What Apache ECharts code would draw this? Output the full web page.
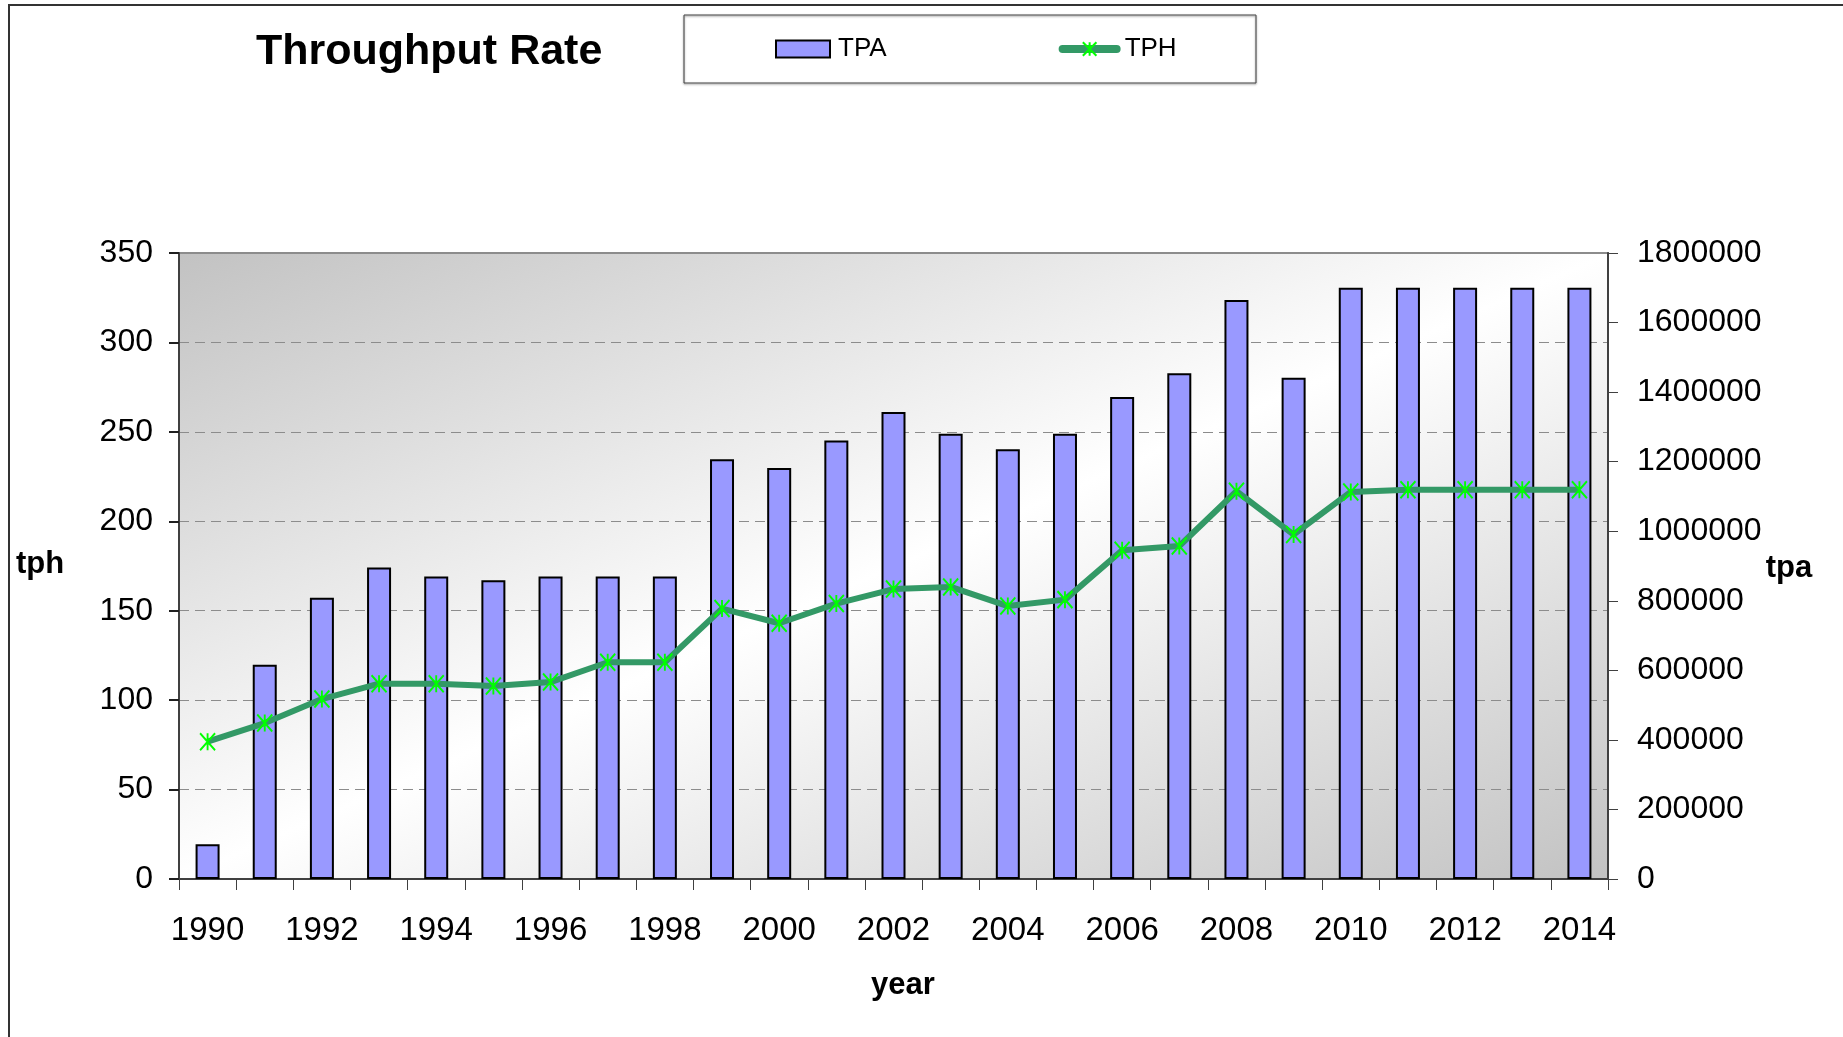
<!DOCTYPE html>
<html>
<head>
<meta charset="utf-8">
<script src="https://cdn.jsdelivr.net/npm/echarts@6/dist/echarts.min.js"></script>
<style>
  html, body { margin: 0; padding: 0; background: #fff; }
  #chart { width: 1843px; height: 1037px; }
</style>
</head>
<body>
<div id="chart"></div>
<script>
  // data
  const years = ['1990', '1991', '1992', '1993', '1994', '1995', '1996', '1997', '1998', '1999',
    '2000', '2001', '2002', '2003', '2004', '2005', '2006', '2007', '2008', '2009',
    '2010', '2011', '2012', '2013', '2014']
  const tpa = [100000, 616000, 809000, 896000, 870000, 859000, 870000, 870000, 870000, 1207000,
    1182000, 1261000, 1343000, 1280000, 1236000, 1280000, 1386000, 1454000, 1665000, 1441000,
    1700000, 1700000, 1700000, 1700000, 1700000]
  const tph = [76.8, 87.2, 100.6, 109.2, 109.2, 107.9, 110.1, 121.2, 121.2, 151.2,
    143.0, 154.0, 162.1, 163.3, 152.6, 156.2, 183.8, 186.2, 216.8, 192.6,
    216.4, 217.7, 217.7, 217.7, 217.7]

  const font = "'Liberation Sans', Arial, sans-serif"
  const star = 'path://M0,0L12,14M12,0L0,14M6,0L6,14'

  const myChart = echarts.init(document.getElementById('chart'))

  // plot area box: 179..1608 x 253..879, gradient runs corner to corner
  myChart.setOption({
    animation: false,
    title: {
      text: 'Throughput Rate',
      left: 256,
      top: 31,
      padding: 0,
      textStyle: { fontFamily: font, fontSize: 43, fontWeight: 'bold', color: '#000' }
    },
    legend: {
      left: 775,
      top: 36,
      padding: 0,
      itemWidth: 54,
      itemHeight: 17,
      itemGap: 172,
      textStyle: { fontFamily: font, fontSize: 26, color: '#000', padding: [0, 0, 0, 3] },
      data: [
        { name: 'TPA', icon: 'rect' },
        { name: 'TPH', itemStyle: { borderWidth: 2 }, lineStyle: { width: 8, cap: 'round' } }
      ]
    },
    grid: {
      left: 179,
      right: 235,
      top: 253,
      bottom: 158,
      show: true,
      borderColor: '#8c8c8c',
      borderWidth: 2,
      backgroundColor: new echarts.graphic.LinearGradient(0, 0, 0.322, 1.678, [
        { offset: 0, color: '#c2c2c2' },
        { offset: 0.5, color: '#ffffff' },
        { offset: 1, color: '#c2c2c2' }
      ])
    },
    xAxis: {
      type: 'category',
      data: years,
      boundaryGap: true,
      axisLine: { lineStyle: { color: '#404040', width: 2 } },
      axisTick: { show: true, interval: 0, length: 11, lineStyle: { color: '#404040', width: 1 } },
      axisLabel: { interval: 1, margin: 35, fontFamily: font, fontSize: 33, color: '#000' }
    },
    yAxis: [
      {
        type: 'value',
        min: 0,
        max: 350,
        interval: 50,
        position: 'left',
        axisLine: { show: true, lineStyle: { color: '#404040', width: 2 } },
        axisTick: { show: true, length: 10, lineStyle: { color: '#202020', width: 2 } },
        axisLabel: { margin: 26, fontFamily: font, fontSize: 32, color: '#000' },
        splitLine: { show: true, lineStyle: { color: '#8c8c8c', width: 1, type: [10, 6] } }
      },
      {
        type: 'value',
        min: 0,
        max: 1800000,
        interval: 200000,
        position: 'right',
        axisLine: { show: true, lineStyle: { color: '#404040', width: 2 } },
        axisTick: { show: true, length: 10, lineStyle: { color: '#404040', width: 1 } },
        axisLabel: { margin: 29, fontFamily: font, fontSize: 32, color: '#000', formatter: v => String(v) },
        splitLine: { show: false }
      }
    ],
    series: [
      {
        name: 'TPA',
        type: 'bar',
        yAxisIndex: 1,
        data: tpa,
        barWidth: 24,
        itemStyle: { color: '#9999ff', borderColor: '#000', borderWidth: 2 }
      },
      {
        name: 'TPH',
        type: 'line',
        yAxisIndex: 0,
        data: tph,
        symbol: star,
        symbolSize: [15, 17],
        lineStyle: { color: '#339966', width: 6 },
        itemStyle: { color: '#00ff00', borderColor: '#00ff00', borderWidth: 2 }
      }
    ],
    graphic: [
      // outer frame (top and left edges only are visible)
      {
        type: 'polyline',
        shape: { points: [[9, 1037], [9, 5], [1843, 5]] },
        style: { stroke: '#333', lineWidth: 2, fill: null }
      },
      // legend box
      {
        type: 'rect',
        shape: { x: 684, y: 15, width: 572, height: 68 },
        style: { stroke: '#444', lineWidth: 1, fill: null, shadowBlur: 2, shadowOffsetY: 1, shadowColor: 'rgba(0,0,0,0.5)' },
        z: -1
      },
      {
        type: 'text',
        x: 40,
        y: 564,
        style: { text: 'tph', font: "bold 31px 'Liberation Sans', Arial", fill: '#000', align: 'center', verticalAlign: 'middle' }
      },
      {
        type: 'text',
        x: 1789,
        y: 568,
        style: { text: 'tpa', font: "bold 31px 'Liberation Sans', Arial", fill: '#000', align: 'center', verticalAlign: 'middle' }
      },
      {
        type: 'text',
        x: 903,
        y: 985,
        style: { text: 'year', font: "bold 31px 'Liberation Sans', Arial", fill: '#000', align: 'center', verticalAlign: 'middle' }
      }
    ]
  })
</script>
</body>
</html>
